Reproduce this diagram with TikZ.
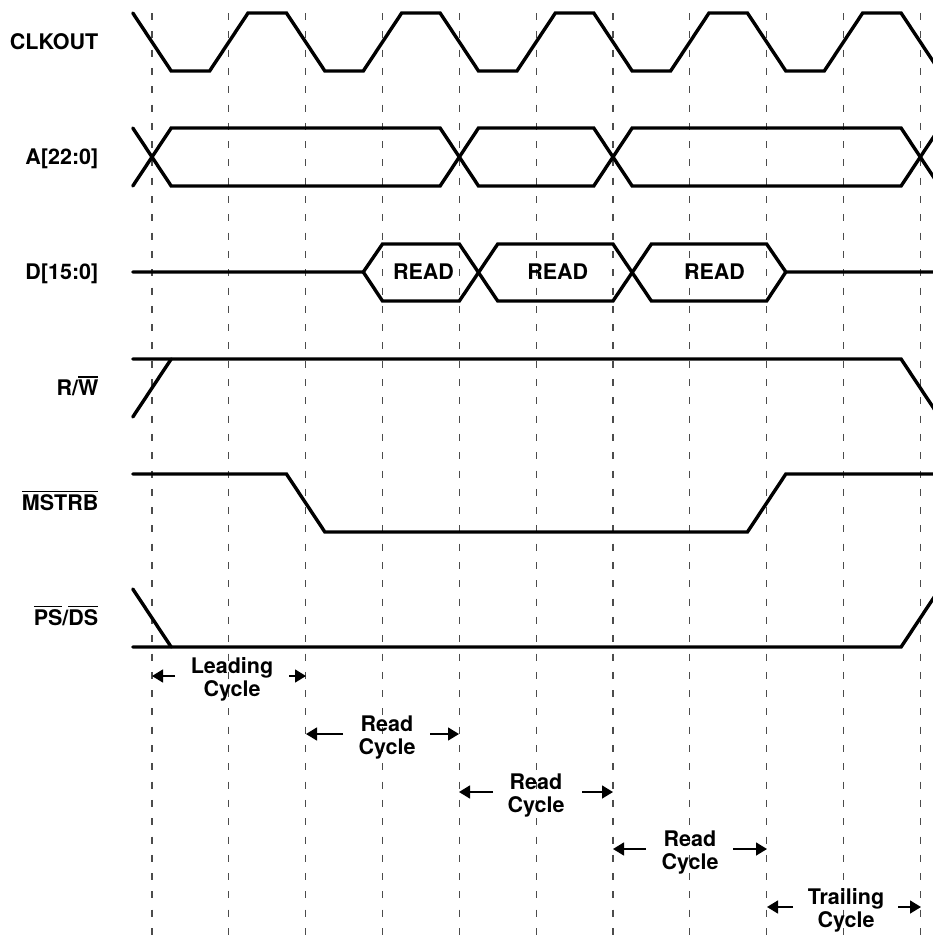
\documentclass[tikz,border=0pt]{standalone}
\usepackage{fontspec}
\setmainfont{TeX Gyre Heros}
\usetikzlibrary{arrows.meta}
\newcommand\ovl[1]{\setbox0\hbox{#1}\rlap{\rule[\dimexpr\ht0+1.8pt\relax]{\wd0}{1.6pt}}\box0}
\begin{document}
\begin{tikzpicture}[x=1pt,y=-1pt,
  wave/.style={line width=3.4pt, line join=miter, line cap=round},
  gridline/.style={line width=1.1pt, black!70, dash pattern=on 7pt off 11.3pt},
  lbl/.style={font=\fontsize{21.5}{22.5}\selectfont\bfseries, inner sep=0pt},
  cyc/.style={lbl, align=center, anchor=center},
  cycarrow/.style={line width=1.5pt, -{Triangle[length=11pt,width=13pt]}}]
\useasboundingbox (0,0) rectangle (933,935);
\clip (0,0) rectangle (933,935);
% x_i = 152 + 76.83 i ; q = 19.2
\def\xa{152}\def\xb{228.83}\def\xc{305.66}\def\xd{382.49}\def\xe{459.32}\def\xf{536.15}
\def\xg{612.98}\def\xh{689.81}\def\xi{766.64}\def\xj{843.47}\def\xk{920.3}
\def\q{19.2}
% dashed grid
\foreach \x in {\xa,\xb,\xc,\xd,\xe,\xf,\xg,\xh,\xi,\xj,\xk}
  \draw[gridline] (\x,13) -- (\x,940);
% CLKOUT
\draw[wave] (\xa-\q,13) -- (\xa+\q,71) -- (\xb-\q,71) -- (\xb+\q,13) -- (\xc-\q,13) -- (\xc+\q,71)
  -- (\xd-\q,71) -- (\xd+\q,13) -- (\xe-\q,13) -- (\xe+\q,71) -- (\xf-\q,71) -- (\xf+\q,13)
  -- (\xg-\q,13) -- (\xg+\q,71) -- (\xh-\q,71) -- (\xh+\q,13) -- (\xi-\q,13) -- (\xi+\q,71)
  -- (\xj-\q,71) -- (\xj+\q,13) -- (\xk-\q,13) -- (\xk+\q,71);
% A[22:0]
\draw[wave] (\xa-\q,128) -- (\xa+\q,186) -- (\xe-\q,186) -- (\xe+\q,128) -- (\xg-\q,128) -- (\xg+\q,186) -- (\xk-\q,186) -- (\xk+\q,128);
\draw[wave] (\xa-\q,186) -- (\xa+\q,128) -- (\xe-\q,128) -- (\xe+\q,186) -- (\xg-\q,186) -- (\xg+\q,128) -- (\xk-\q,128) -- (\xk+\q,186);
% D[15:0]
\draw[wave] (\xa-\q,272) -- (\xd-\q,272) -- (\xd,244) -- (\xe,244) -- (\xe+2*\q,301) -- (\xg,301) -- (\xg+2*\q,244) -- (\xi,244) -- (\xi+\q,272) -- (945,272);
\draw[wave] (\xd-\q,272) -- (\xd,301) -- (\xe,301) -- (\xe+2*\q,244) -- (\xg,244) -- (\xg+2*\q,301) -- (\xi,301) -- (\xi+\q,272);
\node[lbl] (rd1) at (423.5,279.5) [anchor=base] {READ};
\node[lbl] (rd2) at (557.8,279.5) [anchor=base] {READ};
\node[lbl] (rd3) at (714.5,279.5) [anchor=base] {READ};
% R/W
\draw[wave] (\xa-\q,417) -- (\xa+\q,359);
\draw[wave] (\xa-\q,359) -- (\xk-\q,359) -- (\xk+\q,417);
% MSTRB
\draw[wave] (\xa-\q,474) -- (\xc-\q,474) -- (\xc+\q,532) -- (\xi-\q,532) -- (\xi+\q,474) -- (945,474);
% PS/DS
\draw[wave] (\xa-\q,589) -- (\xa+\q,647);
\draw[wave] (\xa-\q,647) -- (\xk-\q,647) -- (\xk+\q,589);
% signal labels
\node[lbl, anchor=base east] (lclk) at (98.5,49.5) {CLKOUT};
\node[lbl, anchor=base east] (laddr) at (98.5,164.5) {A[22:0]};
\node[lbl, anchor=base east] (ldata) at (98.5,279.5) {D[15:0]};
\node[lbl, anchor=base east] (lrw) at (98.5,395) {R/\ovl{W}};
\node[lbl, anchor=base east] (lms) at (98.5,510) {\ovl{MSTRB}};
\node[lbl, anchor=base east] (lps) at (98.5,625) {\ovl{PS}/\ovl{DS}};
% cycle markers
\coordinate (l1a) at (175,676); \coordinate (l1b) at (152,676);
\coordinate (l1c) at (289,676); \coordinate (l1d) at (306,676);
\draw[cycarrow] (l1a) -- (l1b); \draw[cycarrow] (l1c) -- (l1d);
\node[cyc] (tlead) at (232,679.5) {Leading\\Cycle};
\coordinate (r1a) at (343,734); \coordinate (r1b) at (306,734);
\coordinate (r1c) at (430,734); \coordinate (r1d) at (459,734);
\draw[cycarrow] (r1a) -- (r1b); \draw[cycarrow] (r1c) -- (r1d);
\node[cyc] (tread1) at (387,737.5) {Read\\Cycle};
\coordinate (r2a) at (493,792); \coordinate (r2b) at (459,792);
\coordinate (r2c) at (582,792); \coordinate (r2d) at (613,792);
\draw[cycarrow] (r2a) -- (r2b); \draw[cycarrow] (r2c) -- (r2d);
\node[cyc] (tread2) at (536,795.5) {Read\\Cycle};
\coordinate (r3a) at (646,849); \coordinate (r3b) at (613,849);
\coordinate (r3c) at (733,849); \coordinate (r3d) at (767,849);
\draw[cycarrow] (r3a) -- (r3b); \draw[cycarrow] (r3c) -- (r3d);
\node[cyc] (tread3) at (690,852.5) {Read\\Cycle};
\coordinate (t1a) at (793,907); \coordinate (t1b) at (767,907);
\coordinate (t1c) at (898,907); \coordinate (t1d) at (921,907);
\draw[cycarrow] (t1a) -- (t1b); \draw[cycarrow] (t1c) -- (t1d);
\node[cyc] (ttrail) at (846,910.5) {Trailing\\Cycle};
\end{tikzpicture}
\end{document}
